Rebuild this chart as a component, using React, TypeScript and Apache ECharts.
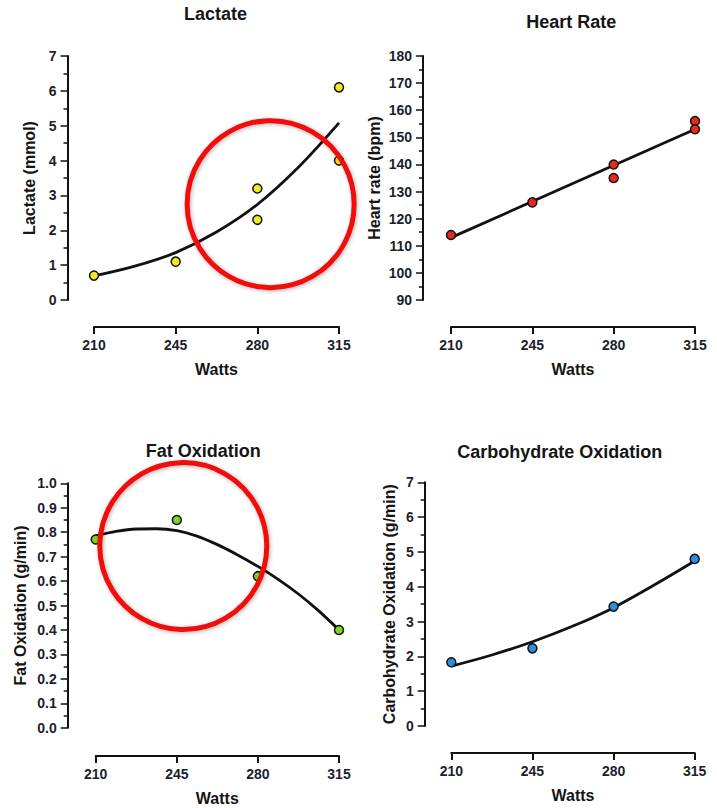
import React, { useEffect, useRef } from "react";
import * as echarts from "echarts";

// ---- data ----
const curveWatts = [210, 227.5, 245, 262.5, 280, 297.5, 315];

const lactatePoints: [number, number][] = [
  [210, 0.7], [245, 1.1], [280, 3.2], [280, 2.3], [315, 6.1], [315, 4.0],
];
const lactateCurve = [0.69, 0.97, 1.36, 1.95, 2.74, 3.8, 5.08];

const hrPoints: [number, number][] = [
  [210, 114], [245, 126], [280, 140], [280, 135], [315, 156], [315, 153],
];
const hrLineWatts = [210, 315];
const hrLine = [113, 153];

const fatPoints: [number, number][] = [
  [210, 0.77], [245, 0.85], [280, 0.62], [315, 0.4],
];
const fatCurveWatts = [210, 218.75, 227.5, 236.25, 245, 253.75, 262.5, 271.25, 280, 288.75, 297.5, 306.25, 315];
const fatCurve = [0.785, 0.803, 0.813, 0.814, 0.806, 0.784, 0.749, 0.707, 0.66, 0.607, 0.547, 0.478, 0.4];

const choPoints: [number, number][] = [
  [210, 1.83], [245, 2.23], [280, 3.43], [315, 4.8],
];
const choCurve = [1.72, 2.04, 2.42, 2.87, 3.4, 4.05, 4.74];

const titles = ["Lactate", "Heart Rate", "Fat Oxidation", "Carbohydrate Oxidation"];
const yNames = ["Lactate (mmol)", "Heart rate (bpm)", "Fat Oxidation (g/min)", "Carbohydrate Oxidation (g/min)"];
const yMin = [0, 90, 0, 0];
const yMax = [7, 180, 1, 7];
const yStep = [1, 10, 0.1, 1];

// annotation circles in data coordinates [grid, watts, value]
const annotations: [number, number, number][] = [
  [0, 285.7, 2.75],
  [2, 247.8, 0.743],
];

const FONT = "'Liberation Sans', Arial, sans-serif";
const LABEL_COLOR = "#1b1f2e";

export default function App() {
  const ref = useRef<HTMLDivElement>(null);
  useEffect(() => {
    if (!ref.current) return;
    const chart = echarts.init(ref.current, null, { renderer: "svg" });

    const grids = [
      { left: 94, top: 56, width: 245, height: 244 },
      { left: 451, top: 56, width: 244, height: 244 },
      { left: 95.7, top: 483.3, width: 243.3, height: 244.4 },
      { left: 451.3, top: 482.3, width: 243.4, height: 243.7 },
    ];
    const xOffsets = [27, 27, 28.3, 27];
    const yOffsets = [26.5, 28, 28, 26.6];
    const nameGaps = [30, 41, 39, 27];
    const titlePos = [
      [215.5, 14],
      [571.3, 22],
      [203.3, 451],
      [559.7, 452],
    ];

    const xAxis = grids.map((_, i) => ({
      type: "value",
      gridIndex: i,
      min: 210,
      max: 315,
      interval: 35,
      offset: xOffsets[i],
      name: "Watts",
      nameLocation: "middle",
      nameGap: 34,
      nameTextStyle: { fontFamily: FONT, fontWeight: "bold", fontSize: 16, color: "#151515" },
      axisLine: { show: true, onZero: false, lineStyle: { color: "#111", width: 2 } },
      axisTick: { show: true, length: 7, lineStyle: { color: "#111", width: 2 } },
      axisLabel: { margin: 11, fontFamily: FONT, fontWeight: "bold", fontSize: 14, color: LABEL_COLOR },
      splitLine: { show: false },
    }));

    const yAxis = grids.map((_, i) => ({
      type: "value",
      gridIndex: i,
      min: yMin[i],
      max: yMax[i],
      interval: yStep[i],
      offset: yOffsets[i],
      name: yNames[i],
      nameLocation: "middle",
      nameGap: nameGaps[i],
      nameTextStyle: { fontFamily: FONT, fontWeight: "bold", fontSize: 16, color: "#151515" },
      axisLine: { show: true, onZero: false, lineStyle: { color: "#111", width: 2 } },
      axisTick: { show: true, length: 7, lineStyle: { color: "#111", width: 1.5 } },
      minorTick: { show: true, splitNumber: 2, length: 4, lineStyle: { color: "#111", width: 1.5 } },
      axisLabel: {
        margin: 11,
        fontFamily: FONT,
        fontWeight: "bold",
        fontSize: 14,
        color: LABEL_COLOR,
        formatter: (v: number) => (i === 2 ? v.toFixed(1) : String(v)),
      },
      splitLine: { show: false },
      minorSplitLine: { show: false },
    }));

    const curveSeries = (i: number, xs: number[], ys: number[], smooth: number) => ({
      type: "line",
      xAxisIndex: i,
      yAxisIndex: i,
      data: xs.map((x, k) => [x, ys[k]]),
      smooth,
      showSymbol: false,
      symbol: "none",
      lineStyle: { color: "#111", width: 2.8 },
      z: 2,
    });
    const pointSeries = (i: number, pts: [number, number][], color: string) => ({
      type: "scatter",
      xAxisIndex: i,
      yAxisIndex: i,
      data: pts,
      symbolSize: 9,
      itemStyle: { color, borderColor: "#111", borderWidth: 1.5, opacity: 1 },
      z: 3,
    });

    chart.setOption({
      animation: false,
      backgroundColor: "#ffffff",
      grid: grids,
      xAxis,
      yAxis,
      series: [
        curveSeries(0, curveWatts, lactateCurve, 0.35),
        pointSeries(0, lactatePoints, "#f2ea1c"),
        curveSeries(1, hrLineWatts, hrLine, 0),
        pointSeries(1, hrPoints, "#e8281a"),
        curveSeries(2, fatCurveWatts, fatCurve, 0.3),
        pointSeries(2, fatPoints, "#7fd321"),
        curveSeries(3, curveWatts, choCurve, 0.35),
        pointSeries(3, choPoints, "#2b8fe0"),
      ],
    });

    const graphic: any[] = titles.map((t, i) => ({
      type: "text",
      x: titlePos[i][0],
      y: titlePos[i][1],
      z: 50,
      style: {
        text: t,
        align: "center",
        verticalAlign: "middle",
        fontFamily: FONT,
        fontWeight: "bold",
        fontSize: 18,
        fill: "#151515",
      },
    }));
    annotations.forEach(([g, wx, v]) => {
      const p = chart.convertToPixel({ gridIndex: g }, [wx, v]) as number[];
      graphic.push({
        type: "circle",
        z: 100,
        shape: { cx: p[0], cy: p[1], r: 83.5 },
        style: {
          fill: "none",
          stroke: "#f21010",
          lineWidth: 5,
          shadowBlur: 4,
          shadowColor: "rgba(0,0,0,0.3)",
          shadowOffsetX: 1,
          shadowOffsetY: 1,
        },
      });
    });
    chart.setOption({ graphic });

    return () => chart.dispose();
  }, []);

  return (
    <div
      ref={ref}
      style={{ position: "absolute", left: 0, top: 0, width: 717, height: 808, background: "#fff" }}
    />
  );
}
